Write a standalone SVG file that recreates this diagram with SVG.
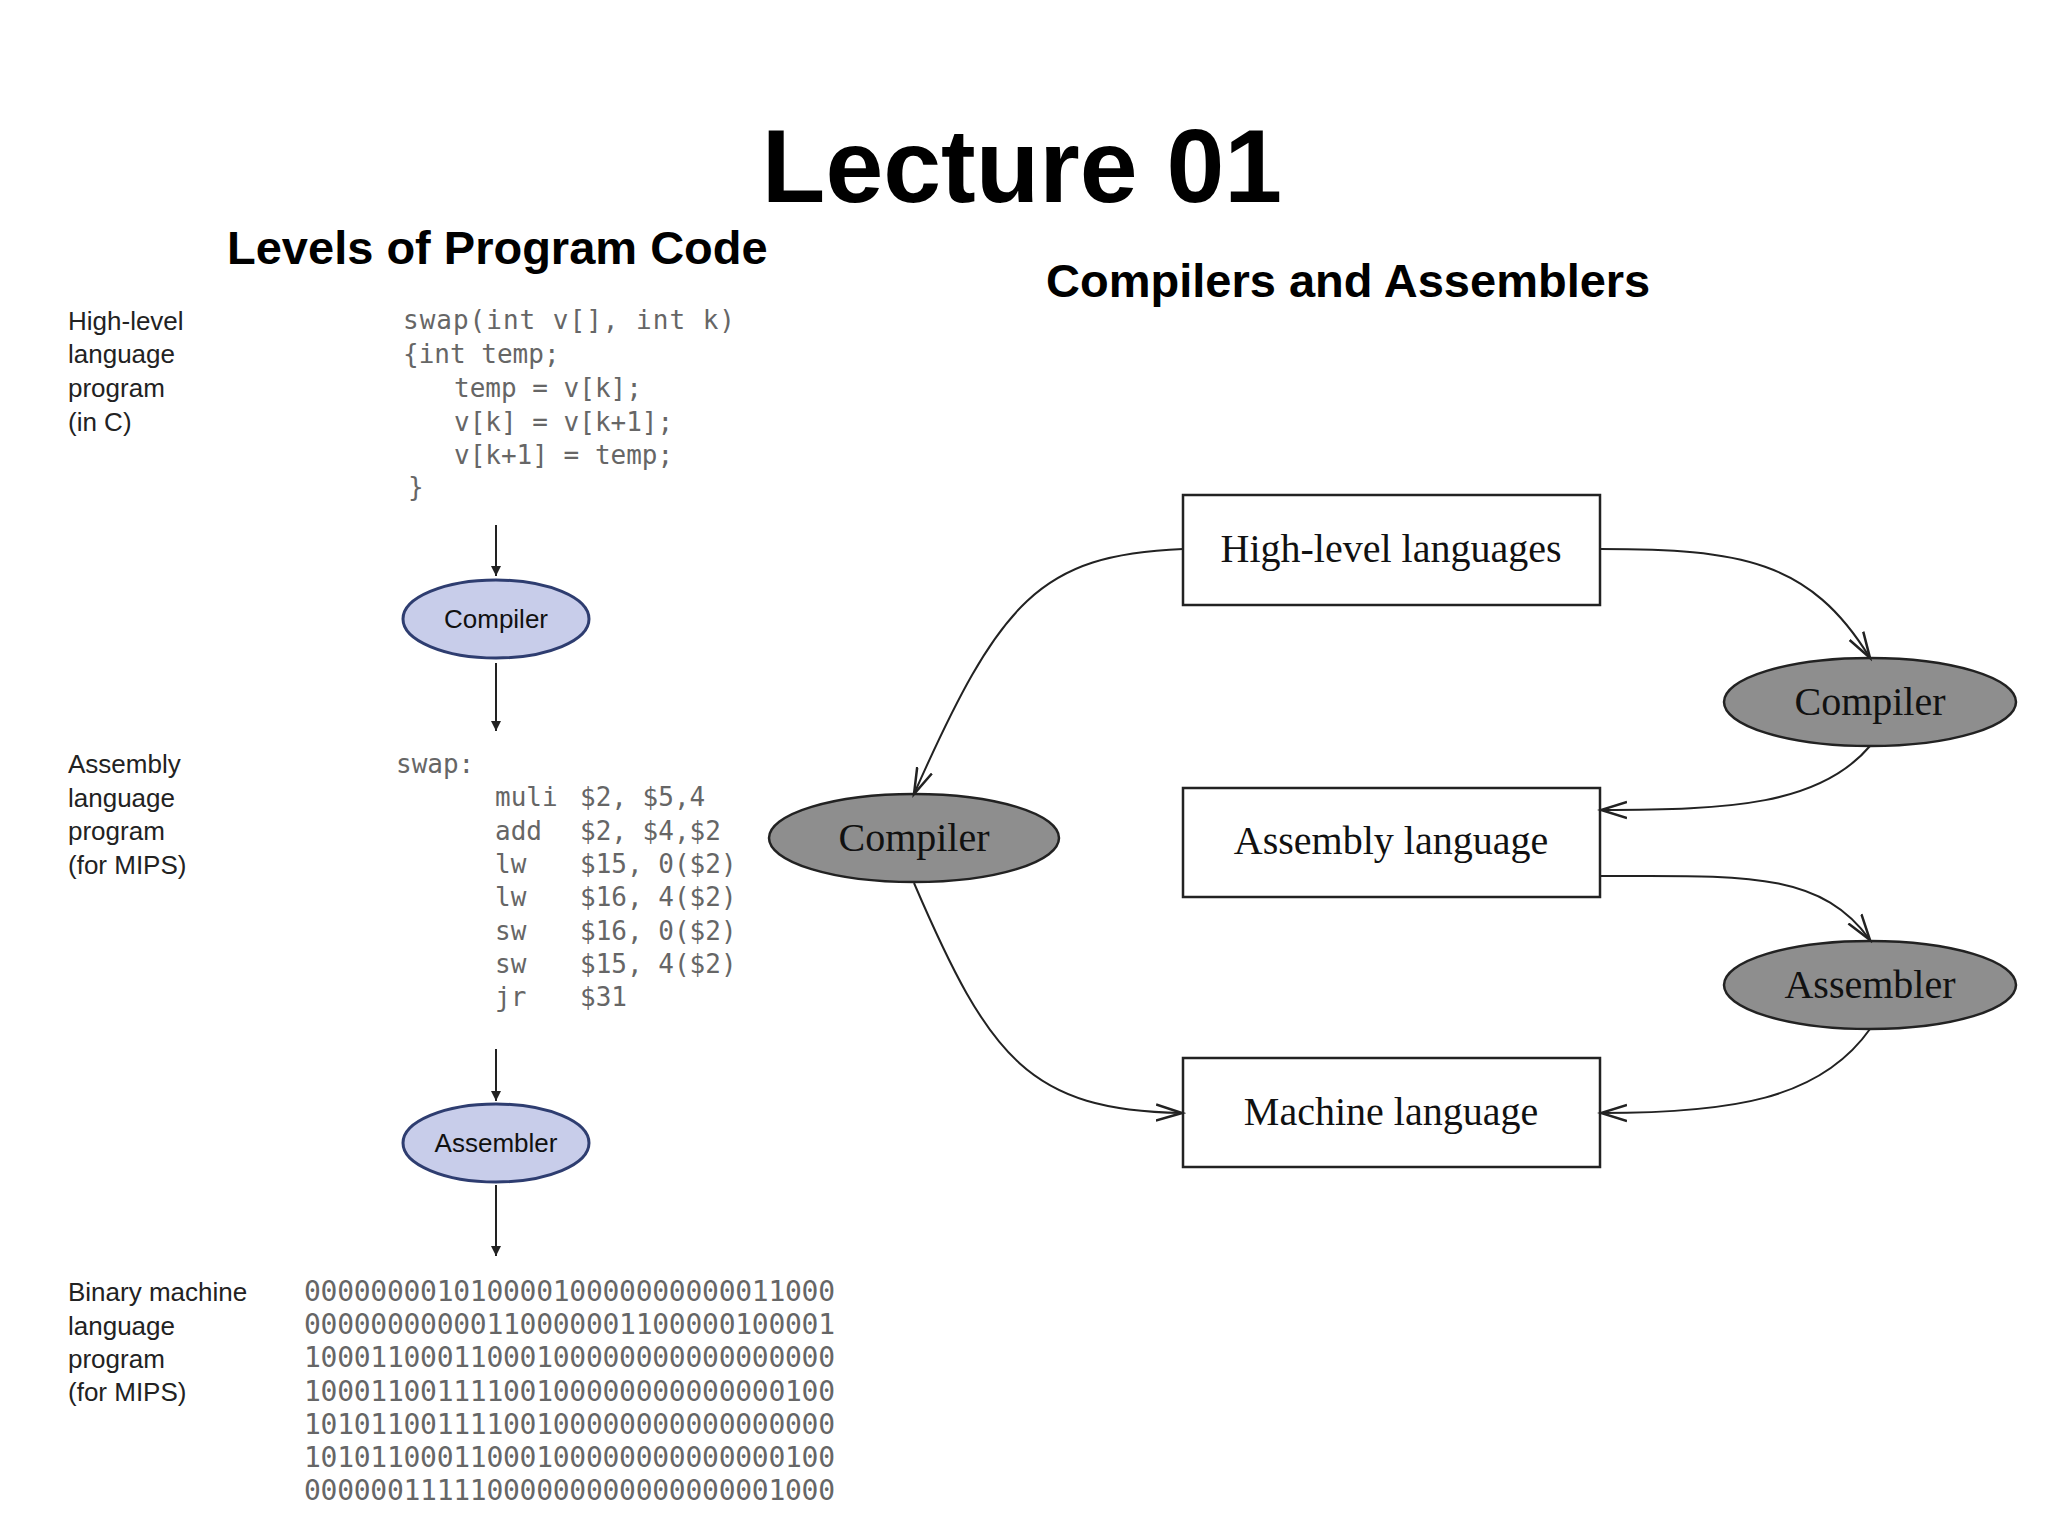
<svg xmlns="http://www.w3.org/2000/svg" width="2048" height="1536" viewBox="0 0 2048 1536">
<defs>
<style>
.h{font-family:"Liberation Sans",Arial,sans-serif;font-weight:bold;fill:#000}
.lab{font-family:"Liberation Sans",Arial,sans-serif;font-size:26px;fill:#222}
.code{font-family:"DejaVu Sans Mono","Liberation Mono",monospace;font-size:26px;fill:#666}
.bin{font-family:"DejaVu Sans Mono","Liberation Mono",monospace;font-size:28px;fill:#666}
.bl{fill:#c8cdea;stroke:#2e3d70;stroke-width:3}
.gr{fill:#8e8e8e;stroke:#222;stroke-width:2.5}
.box{fill:#fff;stroke:#222;stroke-width:2.5}
.tm{font-family:"Liberation Serif","Times New Roman",serif;font-size:40px;fill:#111;text-anchor:middle}
.el{font-family:"Liberation Sans",Arial,sans-serif;font-size:26px;fill:#111;text-anchor:middle}
.c{fill:none;stroke:#222;stroke-width:2}
</style>
<marker id="a" markerWidth="12" markerHeight="10" refX="10" refY="5" orient="auto" markerUnits="userSpaceOnUse"><path d="M0,0 L10,5 L0,10 Z" fill="#222"/></marker>
<marker id="v" markerWidth="30" markerHeight="20" refX="26" refY="10" orient="auto" markerUnits="userSpaceOnUse"><path d="M0,2 L26,10 L0,18" fill="none" stroke="#222" stroke-width="2.5"/></marker>
</defs>
<rect width="2048" height="1536" fill="#fff"/>
<text class="h" x="1022" y="202" font-size="104" text-anchor="middle">Lecture 01</text>
<text class="h" x="227" y="264" font-size="47">Levels of Program Code</text>
<text class="h" x="1046" y="297" font-size="47">Compilers and Assemblers</text>

<g id="labels">
<text class="lab" x="68" y="330">High-level</text><text class="lab" x="68" y="363">language</text><text class="lab" x="68" y="397">program</text><text class="lab" x="68" y="431">(in C)</text>
<text class="lab" x="68" y="773">Assembly</text><text class="lab" x="68" y="807">language</text><text class="lab" x="68" y="840">program</text><text class="lab" x="68" y="874">(for MIPS)</text>
<text class="lab" x="68" y="1301">Binary machine</text><text class="lab" x="68" y="1335">language</text><text class="lab" x="68" y="1368">program</text><text class="lab" x="68" y="1401">(for MIPS)</text>
</g>
<g id="ccode">
<text class="code" x="403" y="329" textLength="332">swap(int v[], int k)</text>
<text class="code" x="403" y="363">{int temp;</text>
<text class="code" x="454" y="397">temp = v[k];</text>
<text class="code" x="454" y="431">v[k] = v[k+1];</text>
<text class="code" x="454" y="464">v[k+1] = temp;</text>
<text class="code" x="408" y="496">}</text>
</g>
<g id="asm">
<text class="code" x="396" y="773">swap:</text>
<text class="code" x="495" y="806">muli</text><text class="code" x="580" y="806">$2, $5,4</text>
<text class="code" x="495" y="840">add</text><text class="code" x="580" y="840">$2, $4,$2</text>
<text class="code" x="495" y="873">lw</text><text class="code" x="580" y="873">$15, 0($2)</text>
<text class="code" x="495" y="906">lw</text><text class="code" x="580" y="906">$16, 4($2)</text>
<text class="code" x="495" y="940">sw</text><text class="code" x="580" y="940">$16, 0($2)</text>
<text class="code" x="495" y="973">sw</text><text class="code" x="580" y="973">$15, 4($2)</text>
<text class="code" x="495" y="1006">jr</text><text class="code" x="580" y="1006">$31</text>
</g>
<g id="binary">
<text class="bin" x="304" y="1301" textLength="531">00000000101000010000000000011000</text>
<text class="bin" x="304" y="1334" textLength="531">00000000000110000001100000100001</text>
<text class="bin" x="304" y="1367" textLength="531">10001100011000100000000000000000</text>
<text class="bin" x="304" y="1401" textLength="531">10001100111100100000000000000100</text>
<text class="bin" x="304" y="1434" textLength="531">10101100111100100000000000000000</text>
<text class="bin" x="304" y="1467" textLength="531">10101100011000100000000000000100</text>
<text class="bin" x="304" y="1500" textLength="531">00000011111000000000000000001000</text>
</g>
<g id="compiler-left"><ellipse class="bl" cx="496" cy="619" rx="93" ry="39"/><text class="el" x="496" y="628">Compiler</text></g>
<g id="assembler-left"><ellipse class="bl" cx="496" cy="1143" rx="93" ry="39"/><text class="el" x="496" y="1152">Assembler</text></g>

<g id="hl"><rect class="box" x="1183" y="495" width="417" height="110"/><text class="tm" x="1391" y="562">High-level languages</text></g>
<g id="al"><rect class="box" x="1183" y="788" width="417" height="109"/><text class="tm" x="1391" y="854">Assembly language</text></g>
<g id="ml"><rect class="box" x="1183" y="1058" width="417" height="109"/><text class="tm" x="1391" y="1125">Machine language</text></g>
<g id="comp-r"><ellipse class="gr" cx="1870" cy="702" rx="146" ry="44"/><text class="tm" x="1870" y="715">Compiler</text></g>
<g id="asm-r"><ellipse class="gr" cx="1870" cy="985" rx="146" ry="44"/><text class="tm" x="1870" y="998">Assembler</text></g>
<g id="comp-l"><ellipse class="gr" cx="914" cy="838" rx="145" ry="44"/><text class="tm" x="914" y="851">Compiler</text></g>

<g id="connectors">
<line class="c" x1="496" y1="525" x2="496" y2="576" marker-end="url(#a)"/>
<line class="c" x1="496" y1="663" x2="496" y2="731" marker-end="url(#a)"/>
<line class="c" x1="496" y1="1049" x2="496" y2="1101" marker-end="url(#a)"/>
<line class="c" x1="496" y1="1185" x2="496" y2="1256" marker-end="url(#a)"/>
<path class="c" d="M1600,549 C1740,549 1810,560 1870,658" marker-end="url(#v)"/>
<path class="c" d="M1870,746 C1820,805 1730,810 1601,810" marker-end="url(#v)"/>
<path class="c" d="M1600,876 C1740,876 1820,870 1870,940" marker-end="url(#v)"/>
<path class="c" d="M1870,1029 C1820,1100 1730,1113 1601,1113" marker-end="url(#v)"/>
<path class="c" d="M1183,549 C1040,555 1000,600 914,794" marker-end="url(#v)"/>
<path class="c" d="M914,883 C990,1060 1030,1110 1182,1113" marker-end="url(#v)"/>
</g>
</svg>
